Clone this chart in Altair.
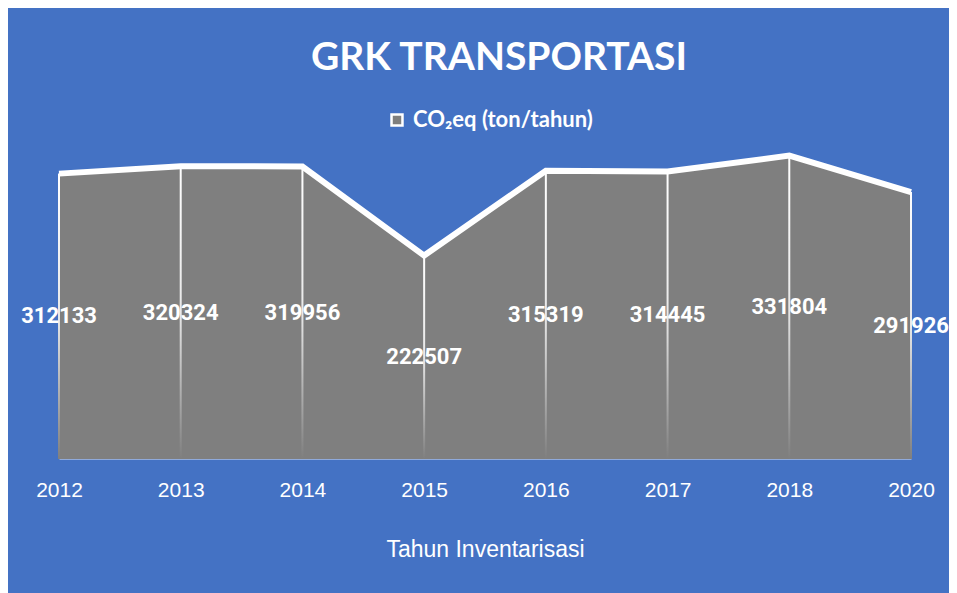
import altair as alt
import pandas as pd

years = ["2012", "2013", "2014", "2015", "2016", "2017", "2018", "2020"]
values = [312133, 320324, 319956, 222507, 315319, 314445, 331804, 291926]
series_name = "CO₂eq (ton/tahun)"

df = pd.DataFrame({"year": years, "value": values, "series": [series_name] * len(years)})

BLUE = "#4472C4"
GRAY = "#7F7F7F"

x = alt.X(
    "year:O",
    scale=alt.Scale(type="point", padding=0),
    axis=alt.Axis(
        title="Tahun Inventarisasi",
        labelAngle=0,
        labelColor="white",
        labelFont="Liberation Sans",
        labelFontSize=21,
        labelPadding=20,
        ticks=False,
        domainColor="#8FAADC",
        domainWidth=1,
        titleColor="white",
        titleFont="Liberation Sans",
        titleFontSize=23,
        titleFontWeight="normal",
        titlePadding=38,
        grid=False,
    ),
)
y_scale = alt.Scale(domain=[0, 350000])

base = alt.Chart(df)

area = base.mark_area(opacity=1, line=False).encode(
    x=x,
    y=alt.Y("value:Q", scale=y_scale, axis=None),
    fill=alt.Fill(
        "series:N",
        scale=alt.Scale(range=[GRAY]),
        legend=alt.Legend(
            title=None,
            orient="none",
            legendX=327,
            legendY=-30,
            padding=0,
            symbolType="square",
            symbolSize=120,
            symbolStrokeColor="white",
            symbolStrokeWidth=2.5,
            symbolOpacity=1,
            labelColor="white",
            labelFont="Lato",
            labelFontWeight="bold",
            labelFontSize=22,
            labelOffset=5,
            labelLimit=400,
        ),
    ),
)

drops = base.mark_bar(
    size=2,
    color=alt.Gradient(
        gradient="linear",
        x1=0, y1=0, x2=0, y2=1,
        stops=[
            alt.GradientStop(color="#FFFFFF", offset=0),
            alt.GradientStop(color="#E8E8E8", offset=0.5),
            alt.GradientStop(color=GRAY, offset=1),
        ],
    ),
).encode(
    x=x,
    y=alt.Y("value:Q", scale=y_scale),
    y2=alt.datum(0),
)

line = base.mark_line(color="white", strokeWidth=6, strokeJoin="miter", strokeCap="butt").encode(
    x=x,
    y=alt.Y("value:Q", scale=y_scale),
)

labels = base.transform_calculate(half="datum.value / 2").mark_text(
    color="white",
    font="Roboto",
    fontWeight="bold",
    fontSize=22,
    baseline="middle",
    align="center",
).encode(
    x=x,
    y=alt.Y("half:Q", scale=y_scale),
    text=alt.Text("value:Q", format="d"),
)

chart = (
    alt.layer(area, drops, line, labels)
    .properties(
        width=852,
        height=320,
        autosize=alt.AutoSizeParams(type="none"),
        padding={"left": 51, "top": 131, "right": 38, "bottom": 134},
        background=BLUE,
        title=alt.TitleParams(
            text="GRK TRANSPORTASI",
            color="white",
            font="Lato",
            fontWeight="bold",
            fontSize=39,
            anchor="middle",
            frame="group",
            offset=0,
            dx=14,
            baseline="alphabetic",
        ),
    )
    .configure_view(stroke=None)
)

chart.save("out.html", embed_options={"renderer": "svg", "actions": False})
